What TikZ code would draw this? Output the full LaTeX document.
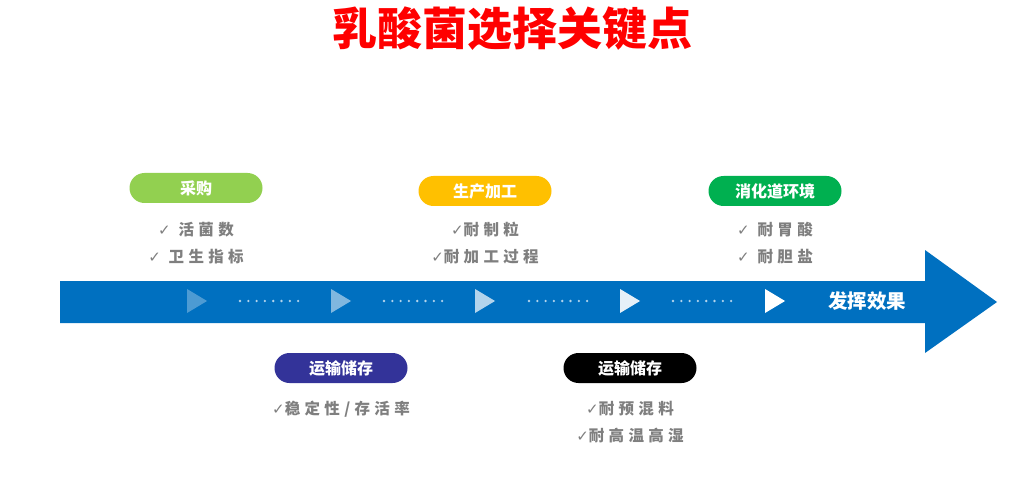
\documentclass[tikz,border=0pt]{standalone}
\usepackage{fontspec}
\newfontfamily\cjk{Noto Sans CJK SC}
\newfontfamily\cjkls[LetterSpace=28]{Noto Sans CJK SC}
\newfontfamily\sym{DejaVu Sans}
\definecolor{arrowblue}{HTML}{0070C0}
\definecolor{pgreen}{HTML}{92D050}
\definecolor{pyellow}{HTML}{FFC000}
\definecolor{pdgreen}{HTML}{00B050}
\definecolor{pnavy}{HTML}{333399}
\definecolor{tgray}{HTML}{7F7F7F}
\newcommand{\ck}{{\sym\fontsize{15}{17}\selectfont ✓}}
\tikzset{
  pill/.style={rounded corners=15pt, minimum width=133pt, minimum height=30pt, inner sep=0pt,
    text=white, font=\cjk\bfseries\fontsize{16}{18}\selectfont},
  bullet/.style={text=tgray, inner sep=0pt, font=\cjkls\bfseries\fontsize{15.5}{18}\selectfont},
  dotc/.style={fill=white, fill opacity=0.7, draw=none}
}
\begin{document}
\begin{tikzpicture}[x=1pt,y=-1pt]
\useasboundingbox (0,0) rectangle (1024,478);
\fill[white] (0,0) rectangle (1024,478);
% title
\node[text=red, font=\cjk\bfseries\fontsize{45}{48}\selectfont] (title) at (512,29) {乳酸菌选择关键点};
% arrow
\fill[arrowblue] (60,281) -- (925,281) -- (925,250) -- (997,302) -- (925,353) -- (925,323) -- (60,323) -- cycle;
% triangles
\foreach \x/\op in {197/0.3, 341/0.5, 485/0.7, 630/0.9, 775/1} {
  \fill[white, fill opacity=\op] (\x-10,289) -- (\x+10,301) -- (\x-10,313) -- cycle;
}
% dots
\foreach \s in {240, 384, 529, 673} {
  \foreach \i in {0,...,7} {
    \fill[dotc] (\s+\i*8.3,301) circle (1.3pt);
  }
}
\node[text=white, font=\cjk\bfseries\fontsize{19.5}{22}\selectfont] (result) at (867,301) {发挥效果};
% top pills
\node[pill, fill=pgreen] (p1) at (196,188) {采购};
\node[pill, fill=pyellow] (p2) at (485,191) {生产加工};
\node[pill, fill=pdgreen] (p3) at (775,191) {消化道环境};
% bottom pills
\node[pill, fill=pnavy] (p4) at (341,368) {运输储存};
\node[pill, fill=black] (p5) at (630,368) {运输储存};
% bullets
\node[bullet] (b1a) at (196,230) {\ck\ 活菌数};
\node[bullet] (b1b) at (196,257) {\ck\ 卫生指标};
\node[bullet] (b2a) at (485,230) {\ck 耐制粒};
\node[bullet] (b2b) at (485,257) {\ck 耐加工过程};
\node[bullet] (b3a) at (775,230) {\ck\ 耐胃酸};
\node[bullet] (b3b) at (775,257) {\ck\ 耐胆盐};
\node[bullet] (b4a) at (341,409) {\ck 稳定性/存活率};
\node[bullet] (b5a) at (630,409) {\ck 耐预混料};
\node[bullet] (b5b) at (630,436) {\ck 耐高温高湿};
\end{tikzpicture}
\end{document}
